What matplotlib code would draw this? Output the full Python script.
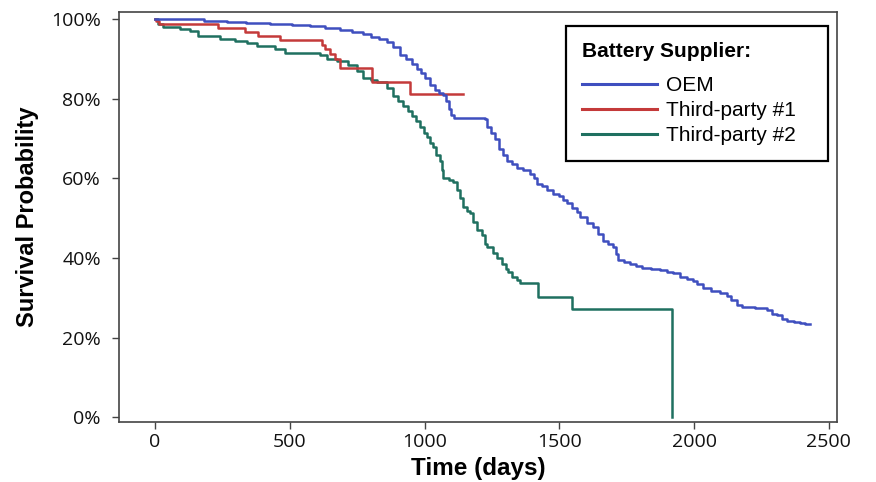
import matplotlib
matplotlib.use("Agg")
import matplotlib.pyplot as plt

# Kaplan-Meier style step curves (days, survival %)
oem_days = [0, 181, 266, 337, 428, 509, 575, 630, 686, 730, 772, 801, 831, 861, 882,
            909, 932, 952, 973, 988, 1003, 1020, 1038, 1053, 1068, 1079, 1089, 1099,
            1109, 1225, 1230, 1245, 1260, 1275, 1291, 1306, 1326, 1343, 1366, 1391,
            1406, 1418, 1437, 1454, 1477, 1497, 1513, 1529, 1548, 1566, 1578, 1603,
            1625, 1644, 1662, 1679, 1699, 1709, 1718, 1740, 1763, 1785, 1807, 1840,
            1874, 1901, 1922, 1947, 1972, 1996, 2012, 2033, 2062, 2097, 2122, 2138,
            2159, 2178, 2224, 2270, 2289, 2307, 2325, 2345, 2370, 2393, 2410, 2430]
oem_surv = [100, 99.5, 99.2, 99.0, 98.8, 98.5, 98.2, 97.8, 97.3, 96.8, 96.3, 95.6, 95.0,
            94.2, 93.0, 91.0, 90.0, 88.8, 87.6, 86.5, 85.2, 83.5, 82.3, 81.5, 81.0,
            79.5, 77.5, 76.0, 75.2, 75.0, 73.0, 71.5, 70.0, 67.5, 66.0, 64.5, 63.5,
            62.5, 62.0, 61.2, 60.0, 58.7, 58.0, 57.0, 56.2, 55.5, 54.5, 53.7, 52.5,
            51.5, 50.2, 48.8, 47.7, 46.0, 44.2, 43.5, 42.7, 41.0, 39.5, 39.0, 38.6,
            38.0, 37.4, 37.2, 37.0, 36.6, 36.2, 35.3, 34.8, 34.3, 33.4, 32.5, 31.8,
            31.3, 30.5, 29.5, 28.3, 27.6, 27.4, 26.9, 26.0, 25.6, 24.8, 24.3, 23.8,
            23.6, 23.3, 23.3]

tp1_days = [0, 5, 15, 234, 334, 382, 464, 620, 631, 650, 668, 686, 805, 946, 1143]
tp1_surv = [100, 99.5, 98.8, 97.7, 96.7, 95.7, 94.7, 93.4, 92.6, 91.3, 90.1, 87.8, 84.2,
            81.3, 81.3]

tp2_days = [0, 11, 30, 93, 130, 159, 241, 297, 342, 378, 446, 482, 612, 639, 675, 716,
            750, 772, 801, 824, 861, 883, 902, 920, 937, 953, 968, 984, 998, 1009, 1021,
            1031, 1043, 1057, 1063, 1068, 1089, 1106, 1121, 1132, 1144, 1157, 1168,
            1179, 1195, 1214, 1225, 1232, 1254, 1270, 1288, 1301, 1310, 1326, 1343,
            1354, 1420, 1547, 1918, 1918]
tp2_surv = [100, 98.7, 98.1, 97.6, 97.0, 95.9, 95.1, 94.5, 93.9, 93.2, 92.4, 91.5, 90.9,
            90.0, 89.4, 88.6, 86.9, 85.3, 84.8, 84.3, 82.8, 80.8, 79.5, 78.3, 77.0,
            75.8, 74.5, 72.8, 71.5, 70.5, 69.0, 67.8, 66.0, 64.5, 62.0, 60.2, 59.6,
            59.0, 57.2, 55.0, 52.8, 51.8, 51.2, 49.0, 47.0, 45.7, 43.5, 42.7, 41.2,
            40.0, 38.6, 37.2, 36.4, 35.2, 34.4, 33.6, 30.1, 27.3, 27.3, 0]

series_names = ["OEM", "Third-party #1", "Third-party #2"]
series_colors = ["#3f4fbf", "#c43a3a", "#1f7060"]

x_ticks = [0, 500, 1000, 1500, 2000, 2500]
y_ticks = [0, 20, 40, 60, 80, 100]
y_labels = ["0%", "20%", "40%", "60%", "80%", "100%"]

fig = plt.figure(figsize=(8.76, 4.82), dpi=100)
ax = fig.add_axes([0.1358, 0.1245, 0.8197, 0.8505])

ax.plot(tp2_days, tp2_surv, drawstyle="steps-post", color=series_colors[2], lw=1.8,
        label=series_names[2])
ax.plot(tp1_days, tp1_surv, drawstyle="steps-post", color=series_colors[1], lw=1.8,
        label=series_names[1])
ax.plot(oem_days, oem_surv, drawstyle="steps-post", color=series_colors[0], lw=1.8,
        label=series_names[0])

ax.set_xlim(-134, 2530)
ax.set_ylim(-1.2, 101.8)
ax.set_xticks(x_ticks)
ax.set_yticks(y_ticks)
ax.set_yticklabels(y_labels)
for lab in ax.get_xticklabels() + ax.get_yticklabels():
    lab.set_family("Open Sans")
    lab.set_fontsize(14)
    lab.set_color("#111111")
ax.tick_params(length=5, width=1, color="#444444")
ax.tick_params(axis="y", pad=8)
ax.tick_params(axis="x", pad=3)

for sp in ax.spines.values():
    sp.set_color("#444444")
    sp.set_linewidth(1.2)

ax.set_xlabel("Time (days)", fontsize=17.5, fontweight="bold", family="Liberation Sans",
              labelpad=4)
ax.set_ylabel("Survival Probability", fontsize=17, fontweight="bold",
              family="Liberation Sans", labelpad=9)

handles, labels = ax.get_legend_handles_labels()
order = [2, 1, 0]
leg = ax.legend([handles[i] for i in order], [labels[i] for i in order],
                title="Battery Supplier:", loc="upper left", mode="expand",
                bbox_to_anchor=(0.6461, 0.5, 0.2991, 0.446),
                bbox_transform=fig.transFigure,
                borderaxespad=0, fancybox=False, framealpha=1, edgecolor="black",
                handlelength=3.6, handletextpad=0.45, labelspacing=0.3,
                prop={"family": "Liberation Sans", "size": 15},
                title_fontproperties={"family": "Liberation Sans", "size": 15,
                                      "weight": "bold"},
                alignment="left", borderpad=0.75)
leg._legend_box.sep = 11
leg.get_frame().set_linewidth(1.6)
for line in leg.get_lines():
    line.set_linewidth(2.2)

fig.savefig("out.png", dpi=100)
